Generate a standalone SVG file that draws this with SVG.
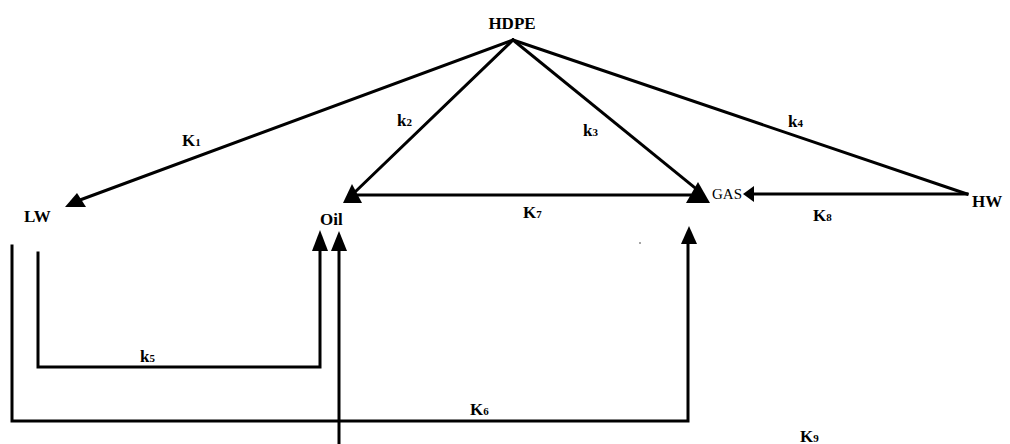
<svg xmlns="http://www.w3.org/2000/svg" width="1010" height="444" viewBox="0 0 1010 444">
  <style>
    .ln { stroke: #000; stroke-width: 3; fill: none; stroke-linecap: square; }
    .hd { fill: #000; stroke: none; }
    .nm { font-family: "Liberation Serif", "Times New Roman", serif; font-weight: bold; font-size: 17px; fill: #000; }
    .sm { font-family: "Liberation Serif", "Times New Roman", serif; font-size: 15px; fill: #000; }
    .kl { font-family: "Liberation Serif", "Times New Roman", serif; font-weight: bold; font-size: 17px; fill: #000; }
    .sub { font-size: 11px; }
  </style>
  <rect width="1010" height="444" fill="#fff"/>

  <g id="connectors">
    <!-- rate lines from HDPE -->
    <line class="ln" x1="513" y1="40" x2="80" y2="200"/>
    <line class="ln" x1="513" y1="40" x2="354" y2="193"/>
    <line class="ln" x1="513" y1="40" x2="700" y2="192"/>
    <line class="ln" x1="513" y1="40" x2="967" y2="194"/>
    <!-- K7: oil <-> gas -->
    <line class="ln" x1="358" y1="195" x2="690" y2="195"/>
    <!-- K8: HW -> gas -->
    <line class="ln" x1="967" y1="194" x2="753" y2="194"/>
    <!-- k5: LW -> oil -->
    <polyline class="ln" points="38,253 38,367 320,367 320,250"/>
    <!-- K6: LW -> gas -->
    <polyline class="ln" points="12,246 12,421 688,421 688,243"/>
    <!-- K9: HW -> oil -->
    <line class="ln" x1="339" y1="444" x2="339" y2="250"/>

    <!-- arrowheads -->
    <polygon class="hd" points="65,207 77,193 86,207"/>
    <polygon class="hd" points="352,184 343,203 362,203"/>
    <polygon class="hd" points="698,182 686,203 710,203"/>
    <polygon class="hd" points="743,194 754,186 754,202"/>
    <polygon class="hd" points="320,230 312,251 328,251"/>
    <polygon class="hd" points="339,231 331,251 347,251"/>
    <polygon class="hd" points="689,226 681,244 697,244"/>
  </g>

  <g id="node-hdpe"><text class="nm" x="512" y="29" text-anchor="middle">HDPE</text></g>
  <g id="node-lw"><text class="nm" x="24" y="222">LW</text></g>
  <g id="node-oil"><text class="nm" x="320" y="225">Oil</text></g>
  <g id="node-gas"><text class="sm" x="712" y="199">GAS</text></g>
  <g id="node-hw"><text class="nm" x="972" y="207">HW</text></g>

  <g id="labels">
    <text class="kl" x="182" y="146">K<tspan class="sub">1</tspan></text>
    <text class="kl" x="397" y="126">k<tspan class="sub">2</tspan></text>
    <text class="kl" x="583" y="136">k<tspan class="sub">3</tspan></text>
    <text class="kl" x="788" y="127">k<tspan class="sub">4</tspan></text>
    <text class="kl" x="140" y="362">k<tspan class="sub">5</tspan></text>
    <text class="kl" x="470" y="415">K<tspan class="sub">6</tspan></text>
    <text class="kl" x="523" y="218">K<tspan class="sub">7</tspan></text>
    <text class="kl" x="813" y="221">K<tspan class="sub">8</tspan></text>
    <text class="kl" x="800" y="442">K<tspan class="sub">9</tspan></text>
  </g>
  <circle cx="640" cy="243" r="1" fill="#888"/>
</svg>
